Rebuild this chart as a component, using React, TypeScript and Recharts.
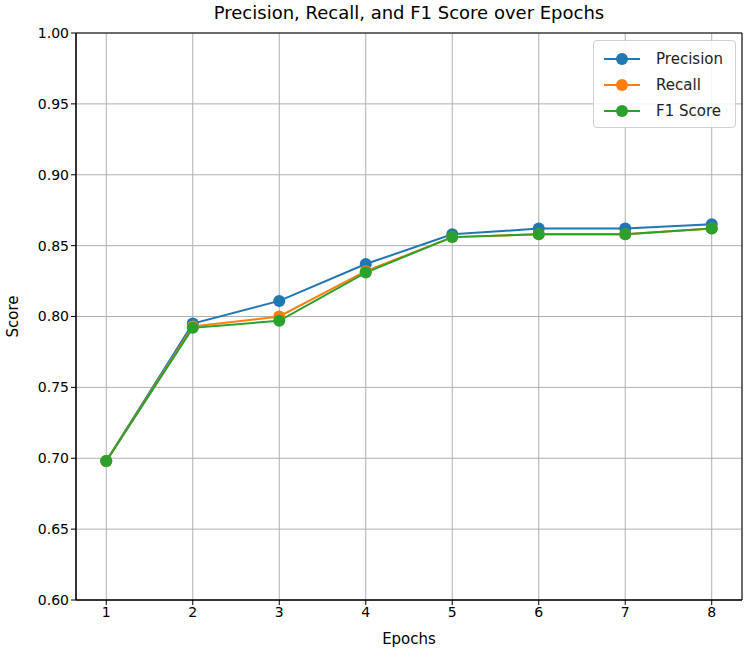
import { LineChart, Line, XAxis, YAxis, CartesianGrid, ReferenceArea } from "recharts";

const epochs = [1, 2, 3, 4, 5, 6, 7, 8];
const precision = [0.698, 0.795, 0.811, 0.837, 0.858, 0.862, 0.862, 0.865];
const recall = [0.698, 0.793, 0.8, 0.832, 0.856, 0.858, 0.858, 0.862];
const f1 = [0.698, 0.792, 0.797, 0.831, 0.856, 0.858, 0.858, 0.862];
const yTicks = [0.6, 0.65, 0.7, 0.75, 0.8, 0.85, 0.9, 0.95, 1.0];

const series = [
  { key: "precision", name: "Precision", color: "#1f77b4" },
  { key: "recall", name: "Recall", color: "#ff7f0e" },
  { key: "f1", name: "F1 Score", color: "#2ca02c" },
];

const data = epochs.map((e, i) => ({
  epoch: e,
  precision: precision[i],
  recall: recall[i],
  f1: f1[i],
}));

const font = "'DejaVu Sans', sans-serif";

function LegendBox() {
  return (
    <div
      style={{
        position: "absolute",
        top: 40,
        right: 14,
        border: "1px solid #d0d0d0",
        borderRadius: 4,
        background: "rgba(255,255,255,0.85)",
        padding: "5px 12px 3px 8px",
        fontFamily: font,
        fontSize: 15,
        color: "#222",
      }}
    >
      {series.map((s) => (
        <div key={s.key} style={{ display: "flex", alignItems: "center", height: 26 }}>
          <svg width={40} height={14} style={{ marginRight: 14 }}>
            <line x1={2} y1={7} x2={38} y2={7} stroke={s.color} strokeWidth={2} />
            <circle cx={20} cy={7} r={6} fill={s.color} />
          </svg>
          <span>{s.name}</span>
        </div>
      ))}
    </div>
  );
}

export default function App() {
  return (
    <div style={{ position: "absolute", left: 0, top: 0, width: 750, height: 657, background: "#fff" }}>
      <div
        style={{
          position: "absolute",
          top: 2,
          left: 76,
          width: 666,
          textAlign: "center",
          fontFamily: font,
          fontSize: 18,
          color: "#000",
        }}
      >
        Precision, Recall, and F1 Score over Epochs
      </div>
      <LineChart width={750} height={657} data={data} margin={{ top: 33, right: 8, left: 0, bottom: 7 }}>
        <CartesianGrid stroke="#b0b0b0" strokeWidth={1} />
        <XAxis
          dataKey="epoch"
          type="number"
          domain={[0.65, 8.35]}
          ticks={epochs}
          allowDataOverflow
          height={50}
          stroke="#000"
          tickSize={5}
          tick={{ fill: "#000", fontSize: 14, fontFamily: font }}
          label={{ value: "Epochs", position: "insideBottom", offset: 6, fill: "#000", fontSize: 15, fontFamily: font }}
        />
        <YAxis
          type="number"
          domain={[0.6, 1.0]}
          ticks={yTicks}
          allowDataOverflow
          width={76}
          stroke="#000"
          tickSize={5}
          tickFormatter={(v: number) => v.toFixed(2)}
          tick={{ fill: "#000", fontSize: 14, fontFamily: font }}
          label={{ value: "Score", angle: -90, position: "insideLeft", offset: 13, fill: "#000", fontSize: 15, fontFamily: font, style: { textAnchor: "middle" } }}
        />
        <ReferenceArea x1={0.65} x2={8.35} y1={0.6} y2={1.0} stroke="#000" strokeWidth={1} fill="none" fillOpacity={0} />
        {series.map((s) => (
          <Line
            key={s.key}
            dataKey={s.key}
            name={s.name}
            stroke={s.color}
            strokeWidth={2}
            dot={{ r: 6, fill: s.color, stroke: s.color, strokeWidth: 0 }}
            activeDot={false}
            isAnimationActive={false}
          />
        ))}
      </LineChart>
      <LegendBox />
    </div>
  );
}
